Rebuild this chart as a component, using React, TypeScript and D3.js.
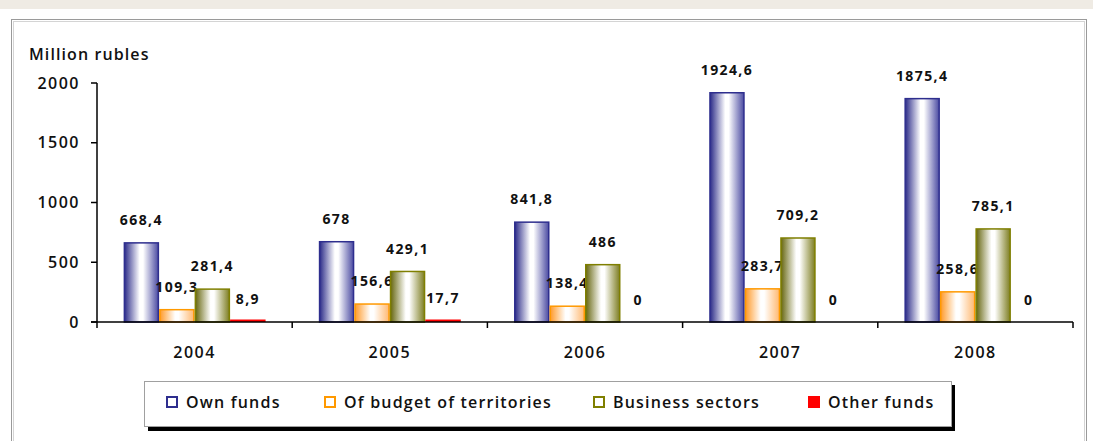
import React from "react";
import * as d3 from "d3";

const years = ["2004", "2005", "2006", "2007", "2008"];
const seriesNames = ["Own funds", "Of budget of territories", "Business sectors", "Other funds"];
const ownFunds = [668.4, 678, 841.8, 1924.6, 1875.4];
const budgetTerritories = [109.3, 156.6, 138.4, 283.7, 258.6];
const businessSectors = [281.4, 429.1, 486, 709.2, 785.1];
const otherFunds = [8.9, 17.7, 0, 0, 0];
const yTicks = [0, 500, 1000, 1500, 2000];
const yAxisTitle = "Million rubles";

const seriesValues = [ownFunds, budgetTerritories, businessSectors, otherFunds];

const styles = [
  { stroke: "#2e2e8e", edgeL: "#2a2a88", edgeR: "#4b4ba2", solid: null as string | null },
  { stroke: "#ff9900", edgeL: "#ff9a2a", edgeR: "#ffb870", solid: null },
  { stroke: "#7f7f00", edgeL: "#66660f", edgeR: "#7e7e22", solid: null },
  { stroke: "#ff0000", edgeL: "#ff0000", edgeR: "#ff0000", solid: "#ff0000" },
];

const FONT = "'Open Sans', 'DejaVu Sans', sans-serif";

export default function App() {
  const W = 1093;
  const H = 441;
  const x0 = 97;
  const x1 = 1073;
  const yTop = 83;
  const yBase = 322;

  const x = d3.scaleBand<string>().domain(years).range([x0, x1]).padding(0);
  const inner = d3
    .scaleBand<number>()
    .domain(d3.range(seriesNames.length))
    .range([0, x.bandwidth()])
    .paddingInner(0)
    .paddingOuter(0.75);
  const y = d3.scaleLinear().domain([0, 2000]).range([yBase, yTop]);

  const fmt = (v: number) => String(v).replace(".", ",");

  const legendX = [166, 324, 593, 808];

  return (
    <svg
      width={W}
      height={H}
      style={{ position: "fixed", left: 0, top: 0, background: "#ffffff" }}
      fontFamily={FONT}
    >
      <defs>
        {styles.map((s, i) => (
          <linearGradient key={i} id={`g${i}`} x1="0" x2="1" y1="0" y2="0">
            <stop offset="0" stopColor={s.edgeL} />
            <stop offset="0.45" stopColor="#ffffff" />
            <stop offset="0.55" stopColor="#ffffff" />
            <stop offset="1" stopColor={s.edgeR} />
          </linearGradient>
        ))}
      </defs>
      <rect x={0} y={0} width={W} height={H} fill="#ffffff" />
      <rect x={0} y={0} width={W} height={9} fill="#efebe4" />
      {/* frame */}
      <rect x={11.5} y={19.5} width={1075} height={440} fill="none" stroke="#9a9a9a" strokeWidth={1} />
      <rect x={13.5} y={21.5} width={1071} height={440} fill="none" stroke="#d4d4d4" strokeWidth={1} />

      {/* y axis title */}
      <text x={29} y={60} fontSize={16} fontWeight={600} letterSpacing={1.1} fill="#111">
        {yAxisTitle}
      </text>

      {/* bars */}
      {years.map((yr, ci) =>
        seriesValues.map((vals, si) => {
          const v = vals[ci];
          const bx = (x(yr) as number) + (inner(si) as number);
          const bw = inner.bandwidth();
          const top = y(v);
          const h = yBase - top;
          const st = styles[si];
          return (
            <g key={`${ci}-${si}`}>
              {h > 0 &&
                (st.solid ? (
                  <rect x={bx} y={Math.min(top, yBase - 2.5)} width={bw} height={Math.max(h, 2.5)} fill={st.solid} />
                ) : (
                  <rect
                    x={bx + 0.75}
                    y={top + 0.75}
                    width={bw - 1.5}
                    height={h - 0.75}
                    fill={`url(#g${si})`}
                    stroke={st.stroke}
                    strokeWidth={1.5}
                  />
                ))}
              <text
                x={bx + bw / 2}
                y={top - 17}
                textAnchor="middle"
                fontSize={14}
                fontWeight={700}
                letterSpacing={1.4}
                fill="#111"
              >
                {fmt(v)}
              </text>
            </g>
          );
        })
      )}

      {/* y axis */}
      <line x1={x0} x2={x0} y1={yTop} y2={yBase} stroke="#000" strokeWidth={1.5} />
      {yTicks.map((t) => (
        <g key={t}>
          <line x1={x0 - 6} x2={x0} y1={y(t)} y2={y(t)} stroke="#000" strokeWidth={1.5} />
          <text
            x={80}
            y={y(t) + 5.5}
            textAnchor="end"
            fontSize={16}
            fontWeight={600}
            letterSpacing={1.5}
            fill="#111"
          >
            {t}
          </text>
        </g>
      ))}

      {/* x axis */}
      <line x1={x0 - 6} x2={x1} y1={yBase} y2={yBase} stroke="#000" strokeWidth={1.5} />
      {years.map((yr) => (
        <line
          key={yr}
          x1={(x(yr) as number)}
          x2={(x(yr) as number)}
          y1={yBase}
          y2={yBase + 6}
          stroke="#000"
          strokeWidth={1.5}
        />
      ))}
      <line x1={x1} x2={x1} y1={yBase} y2={yBase + 6} stroke="#000" strokeWidth={1.5} />
      {years.map((yr) => (
        <text
          key={yr}
          x={(x(yr) as number) + x.bandwidth() / 2}
          y={358}
          textAnchor="middle"
          fontSize={16}
          fontWeight={600}
          letterSpacing={1.5}
          fill="#111"
        >
          {yr}
        </text>
      ))}

      {/* legend */}
      <rect x={148} y={385} width={807} height={46} fill="#000" />
      <rect x={144.5} y={381.5} width={807} height={45} fill="#fff" stroke="#a0a0a0" strokeWidth={1} />
      {seriesNames.map((n, i) => {
        const st = styles[i];
        return (
          <g key={n}>
            <rect
              x={legendX[i] + 1}
              y={397}
              width={10}
              height={10}
              fill={st.solid ? st.solid : "#fff"}
              stroke={st.stroke}
              strokeWidth={2}
            />
            <text
              x={legendX[i] + 20}
              y={408}
              fontSize={16}
              fontWeight={600}
              letterSpacing={1.2}
              fill="#111"
            >
              {n}
            </text>
          </g>
        );
      })}
    </svg>
  );
}
